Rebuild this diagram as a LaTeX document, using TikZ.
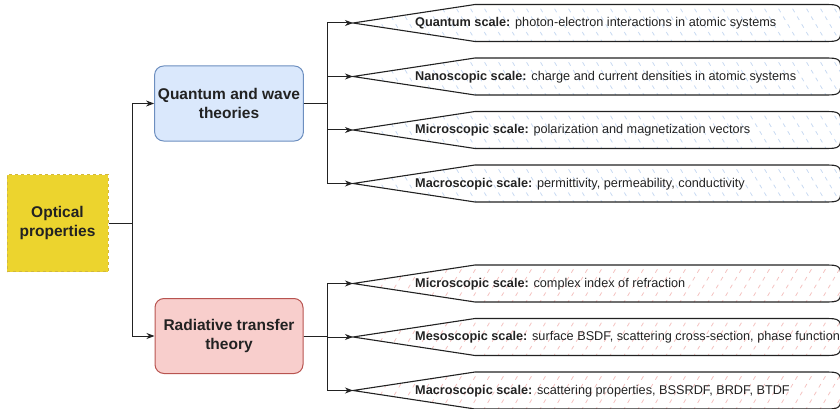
\documentclass[tikz,border=0pt]{standalone}
\usepackage{fontspec}
\setmainfont{Liberation Sans}
\usetikzlibrary{arrows.meta}
\definecolor{optfill}{HTML}{ECD42E}
\definecolor{optline}{HTML}{D2B83C}
\definecolor{blufill}{HTML}{DAE8FC}
\definecolor{bluline}{HTML}{6C8EBF}
\definecolor{redfill}{HTML}{F8CECC}
\definecolor{redline}{HTML}{B85450}
\definecolor{hatchblue}{HTML}{C8DAF2}
\definecolor{hatchred}{HTML}{F4C2C0}
\definecolor{inkc}{HTML}{222222}
\newcommand\dispshape[4]{%
  \begin{scope}
    \path[clip] (353,#2) -- (475,{#2-18.5}) -- (823,{#2-18.5}) .. controls (841,{#2-18.5}) .. (841,#2) .. controls (841,{#2+18.5}) .. (823,{#2+18.5}) -- (475,{#2+18.5}) -- cycle;
    \foreach \hx in {340,354,...,880} \draw[#3,line width=0.8pt,dash pattern=on 4pt off 5pt] (\hx,{#2-22}) -- ++({#4*26},44);
  \end{scope}
  \draw[shapeline] (353,#2) -- (475,{#2-18.5}) -- (823,{#2-18.5}) .. controls (841,{#2-18.5}) .. (841,#2) .. controls (841,{#2+18.5}) .. (823,{#2+18.5}) -- (475,{#2+18.5}) -- cycle;
  \coordinate (#1) at (353,#2);
}
\begin{document}
\begin{tikzpicture}[x=1pt,y=-1pt,
  shapeline/.style={draw=inkc,line width=1.1pt},
  arr/.style={draw=inkc,line width=1pt,-{Stealth[length=8pt,width=6pt,inset=2.5pt]}},
  bigbox/.style={rounded corners=9pt,line width=1pt,minimum width=148pt,minimum height=75pt,align=center,font=\fontsize{15.5}{19}\selectfont\bfseries,text=inkc},
  lbl/.style={anchor=west,inner sep=0pt,font=\fontsize{12.7}{15}\selectfont,text=inkc}]
\useasboundingbox (0,0) rectangle (840,409);
\node[fill=optfill,draw=optline,dashed,line width=1pt,minimum width=101pt,minimum height=97pt,align=center,font=\fontsize{15.5}{18.5}\selectfont\bfseries,text=inkc] (opt) at (57.5,223) {Optical\\properties};
\node[bigbox,fill=blufill,draw=bluline] (qw) at (229,103.5) {Quantum and wave\\theories};
\node[bigbox,fill=redfill,draw=redline] (rt) at (229,336) {Radiative transfer\\theory};

\dispshape{s1}{23}{hatchblue}{1}
\dispshape{s2}{76.5}{hatchblue}{1}
\dispshape{s3}{130}{hatchblue}{1}
\dispshape{s4}{183.5}{hatchblue}{1}
\dispshape{s5}{283.5}{hatchred}{-1}
\dispshape{s6}{337}{hatchred}{-1}
\dispshape{s7}{390.5}{hatchred}{-1}

\node[lbl] (t1) at (415,23.5) {\textbf{Quantum scale:} photon-electron interactions in atomic systems};
\node[lbl] (t2) at (415,77) {\textbf{Nanoscopic scale:} charge and current densities in atomic systems};
\node[lbl] (t3) at (415,130.5) {\textbf{Microscopic scale:} polarization and magnetization vectors};
\node[lbl] (t4) at (415,184) {\textbf{Macroscopic scale:} permittivity, permeability, conductivity};
\node[lbl] (t5) at (415,284) {\textbf{Microscopic scale:} complex index of refraction};
\node[lbl] (t6) at (415,337.5) {\textbf{Mesoscopic scale:} surface BSDF, scattering cross-section, phase function};
\node[lbl] (t7) at (415,391) {\textbf{Macroscopic scale:} scattering properties, BSSRDF, BRDF, BTDF};

\draw[arr] (opt.east) -- (132,223) |- (qw.west);
\draw[arr] (opt.east) -- (132,223) |- (rt.west);
\foreach \s in {s1,s2,s3,s4} \draw[arr] (qw.east) -- (327,103.5) |- (\s);
\foreach \s in {s5,s6,s7} \draw[arr] (rt.east) -- (327,336) |- (\s);
\end{tikzpicture}
\end{document}
